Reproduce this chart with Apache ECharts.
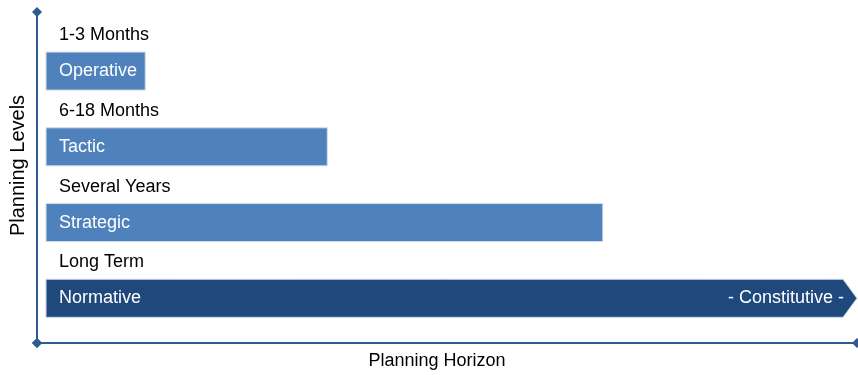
<!DOCTYPE html>
<html>
<head>
<meta charset="utf-8">
<script src="https://cdn.jsdelivr.net/npm/echarts@6/dist/echarts.min.js"></script>
<style>
  html, body { margin: 0; padding: 0; background: #fff; }
  #chart { width: 858px; height: 375px; }
</style>
</head>
<body>
<div id="chart"></div>
<script>
// planning levels, top to bottom
const levels = ["Operative", "Tactic", "Strategic", "Normative"];
const horizons = ["1-3 Months", "6-18 Months", "Several Years", "Long Term"];
// bar extent on the horizon axis (0..100)
const barStart = [1.1, 1.1, 1.1, 1.1];
const barEnd = [13.2, 35.4, 69.0, 100];
const tailText = ["", "", "", "- Constitutive -"];

const fontFamily = "'Liberation Sans', Arial, sans-serif";

const chart = echarts.init(document.getElementById("chart"));

const seriesData = levels.map((name, i) => [barStart[i], barEnd[i], i + 0.78]);

function renderItem(params, api) {
  const i = params.dataIndex;
  const p0 = api.coord([api.value(0), api.value(2)]);
  const p1 = api.coord([api.value(1), api.value(2)]);
  const h = 38;
  const x0 = p0[0], x1 = p1[0], y = p0[1];
  const isLast = i === levels.length - 1;
  const children = [];
  if (isLast) {
    const tip = 14;
    children.push({
      type: "polygon",
      shape: {
        points: [
          [x0, y - h / 2], [x1 - tip, y - h / 2], [x1, y],
          [x1 - tip, y + h / 2], [x0, y + h / 2]
        ]
      },
      style: { fill: "#1F497D", stroke: "#c8d4e6", lineWidth: 1 }
    });
    children.push({
      type: "text",
      style: {
        text: tailText[i], x: x1 - 13, y: y,
        align: "right", verticalAlign: "middle",
        fill: "#fff", font: "18px " + fontFamily
      }
    });
  } else {
    children.push({
      type: "rect",
      shape: { x: x0, y: y - h / 2, width: x1 - x0, height: h },
      style: { fill: "#4F81BD", stroke: "#d2ddec", lineWidth: 1 }
    });
  }
  children.push({
    type: "text",
    style: {
      text: levels[i], x: x0 + 13, y: y,
      align: "left", verticalAlign: "middle",
      fill: "#fff", font: "18px " + fontFamily
    }
  });
  children.push({
    type: "text",
    style: {
      text: horizons[i], x: x0 + 13, y: y - h / 2 - 17,
      align: "left", verticalAlign: "middle",
      fill: "#000", font: "18px " + fontFamily
    }
  });
  return { type: "group", children: children };
}

const axisColor = "#2E5A8F";

chart.setOption({
  animation: false,
  grid: { left: 31, right: 1, top: 12, bottom: 28 },
  xAxis: {
    type: "value",
    min: 0,
    max: 100,
    name: "Planning Horizon",
    nameLocation: "middle",
    nameGap: 9,
    nameTextStyle: {
      color: "#000", fontSize: 18, fontFamily: fontFamily,
      verticalAlign: "top", padding: [0, 20, 0, 0]
    },
    axisLine: {
      show: true, onZero: false,
      symbol: ["diamond", "diamond"], symbolSize: [10, 10],
      lineStyle: { color: axisColor, width: 2 }
    },
    axisTick: { show: false },
    axisLabel: { show: false },
    splitLine: { show: false }
  },
  yAxis: {
    type: "value",
    min: 0,
    max: 4.37,
    inverse: true,
    name: "Planning Levels",
    nameLocation: "middle",
    nameGap: 9,
    nameRotate: 90,
    nameTextStyle: {
      color: "#000", fontSize: 20, fontFamily: fontFamily,
      padding: [0, 0, 0, 24]
    },
    axisLine: {
      show: true, onZero: false,
      symbol: ["diamond", "diamond"], symbolSize: [10, 10],
      lineStyle: { color: axisColor, width: 2 }
    },
    axisTick: { show: false },
    axisLabel: { show: false },
    splitLine: { show: false }
  },
  series: [{
    type: "custom",
    renderItem: renderItem,
    encode: { x: [0, 1], y: 2 },
    data: seriesData,
    clip: false
  }]
});
</script>
</body>
</html>
